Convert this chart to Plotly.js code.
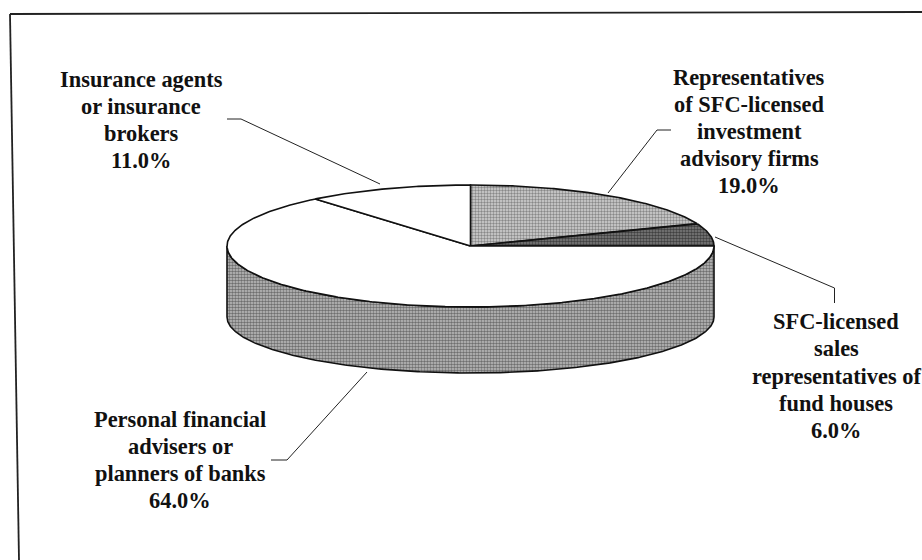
<!DOCTYPE html>
<html><head><meta charset="utf-8">
<script src="https://cdn.plot.ly/plotly-3.0.1.min.js"></script>
<style>html,body{margin:0;padding:0;background:#fff}#c{width:922px;height:560px}</style>
</head><body><div id="c"></div>
<script>
const categories = [
  ["Representatives", "of SFC-licensed", "investment", "advisory firms"],
  ["SFC-licensed", "sales", "representatives of", "fund houses"],
  ["Personal financial", "advisers or", "planners of banks"],
  ["Insurance agents", "or insurance", "brokers"]
];
const values = [19, 6, 64, 11];
const valueLabels = ["19.0%", "6.0%", "64.0%", "11.0%"];

// drawing geometry of the tilted disc
const cx = 470.5, cy = 246, rx = 243.5, ry = 61, sideDepth = 71, ryBottom = 56;
const pt = deg => { const t = deg * Math.PI / 180; return [cx + rx * Math.sin(t), cy - ry * Math.cos(t)]; };
const ptBottom = deg => { const t = deg * Math.PI / 180; return [cx + rx * Math.sin(t), cy + sideDepth - ryBottom * Math.cos(t)]; };
function arc(a0, a1, f) {
  const n = Math.max(2, Math.ceil(Math.abs(a1 - a0) * 2)), out = [];
  for (let i = 0; i <= n; i++) out.push((f || pt)(a0 + (a1 - a0) * i / n));
  return out;
}
const tex = (fg, bg, solidity) => ({shape: '.', size: 3, solidity, fgcolor: fg, bgcolor: bg, fillmode: 'overlay'});
const styles = [
  {color: '#ffffff', pattern: tex('#3c3c3c', '#d4d4d4', 0.5)},
  {color: '#ffffff', pattern: tex('#000000', '#808080', 0.55)},
  {color: '#ffffff', pattern: null},
  {color: '#ffffff', pattern: null}
];
const traces = [];
function poly(points, style, lw) {
  const t = {
    type: 'scatter', mode: 'lines', x: points.map(p => p[0]), y: points.map(p => p[1]),
    fill: 'toself', fillcolor: style.color, line: {color: '#111', width: lw === undefined ? 1.6 : lw},
    hoverinfo: 'skip', showlegend: false
  };
  if (style.pattern) t.fillpattern = style.pattern;
  traces.push(t);
}
// visible wall of the disc: front half only
const wall = arc(90, 270).concat(arc(270, 90, ptBottom));
wall.push(pt(90));
poly(wall, {color: '#ffffff', pattern: tex('#1e1e1e', '#c0c0c0', 0.55)});
// top-face slices, clockwise from twelve o'clock
const total = values.reduce((a, b) => a + b, 0);
let start = 0;
values.forEach((v, i) => {
  const end = start + v / total * 360;
  poly([[cx, cy]].concat(arc(start, end), [[cx, cy]]), styles[i]);
  start = end;
});
// frame and leader lines
const seg = (xs, ys, w) => traces.push({type: 'scatter', mode: 'lines', x: xs, y: ys,
  line: {color: '#222', width: w || 1}, hoverinfo: 'skip', showlegend: false});
seg([10, 19], [14, 560], 1.8);
seg([10, 922], [14, 12], 1.8);
seg([227, 241, 380], [119, 119, 184]);
seg([671, 657, 608], [130, 130, 193]);
seg([715, 834.5, 834.5], [237, 288, 303]);
seg([271, 287, 367], [460, 460, 372]);

// label block: centre x, first line y
const labels = [[749, 77], [836, 321.7], [180, 419], [141, 79]];
const lineStep = 27.2;
const annotations = [];
categories.forEach((lines, i) => {
  lines.concat(valueLabels[i]).forEach((s, k) => annotations.push({
    x: labels[i][0], y: labels[i][1] + k * lineStep, xref: 'x', yref: 'y',
    xanchor: 'center', yanchor: 'middle', text: s, showarrow: false,
    font: {family: '"Liberation Serif", serif', size: 22.4, color: '#111', weight: 700}
  }));
});
Plotly.newPlot('c', traces, {
  width: 922, height: 560, margin: {l: 0, r: 0, t: 0, b: 0},
  paper_bgcolor: '#fff', plot_bgcolor: '#fff', showlegend: false,
  xaxis: {range: [0, 922], visible: false, fixedrange: true},
  yaxis: {range: [560, 0], visible: false, fixedrange: true},
  annotations
}, {displayModeBar: false, staticPlot: true});
</script></body></html>
